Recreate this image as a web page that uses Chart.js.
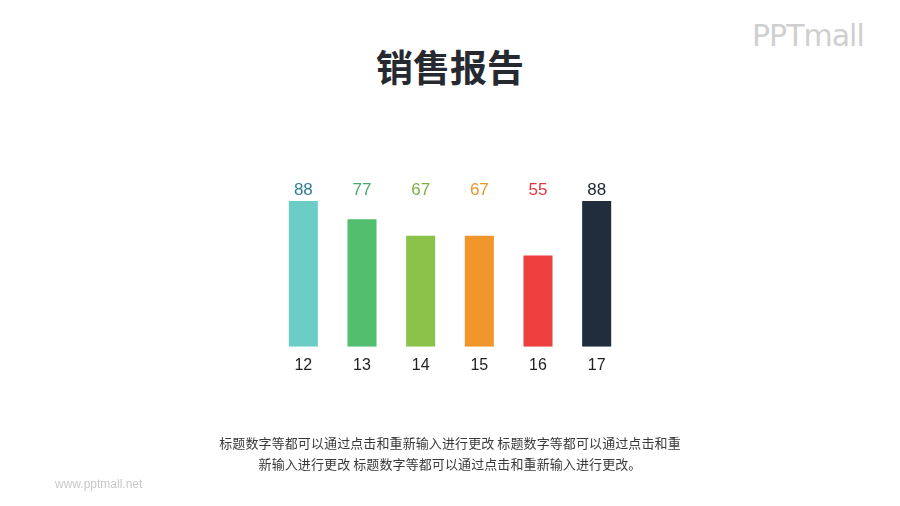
<!DOCTYPE html>
<html>
<head>
<meta charset="utf-8">
<script src="https://cdn.jsdelivr.net/npm/chart.js@4"></script>
<style>
html,body{margin:0;padding:0;background:#fff;width:900px;height:506px;overflow:hidden;position:relative;font-family:"Liberation Sans",Arial,sans-serif;}
#wrap{position:absolute;left:0;top:0;width:900px;height:506px;}
#title{position:absolute;left:0;width:900px;top:42px;text-align:center;font-family:"Noto Sans CJK SC",sans-serif;font-weight:bold;font-size:37px;line-height:48px;color:#262a30;}
#sub{position:absolute;left:0;width:900px;top:432px;text-align:center;font-family:"Noto Sans CJK SC",sans-serif;font-size:13px;letter-spacing:0.1px;line-height:21px;color:#3a3a3a;}
#logo{position:absolute;left:752px;top:18px;font-family:"DejaVu Sans",sans-serif;font-size:30px;color:#cfcfcf;letter-spacing:-1px;}
#url{position:absolute;left:55px;top:477px;font-family:"Liberation Sans",sans-serif;font-size:12px;color:#c8c8c8;}
</style>
</head>
<body>
<div id="title">销售报告</div>
<div id="logo">PPTmall</div>
<div id="wrap"><canvas id="c" width="900" height="506"></canvas></div>
<div id="sub">标题数字等都可以通过点击和重新输入进行更改 标题数字等都可以通过点击和重<br>新输入进行更改 标题数字等都可以通过点击和重新输入进行更改。</div>
<div id="url">www.pptmall.net</div>
<script>
const categories = ["12", "13", "14", "15", "16", "17"];
const salesValues = [88, 77, 67, 67, 55, 88];
const barColors = ["#6ccdc6", "#52bf6f", "#8bc34a", "#f0962a", "#ef4040", "#1f2d3d"];
const labelColors = ["#2e7f96", "#4aa872", "#7fb043", "#e8952c", "#e0393d", "#1b2530"];

const valueLabels = {
  id: "valueLabels",
  afterDatasetsDraw(chart) {
    const ctx = chart.ctx;
    const meta = chart.getDatasetMeta(0);
    const yTop = chart.scales.y.getPixelForValue(Math.max(...salesValues));
    ctx.save();
    ctx.font = "17px 'Liberation Sans', Arial, sans-serif";
    ctx.textAlign = "center";
    ctx.textBaseline = "middle";
    meta.data.forEach((bar, i) => {
      ctx.fillStyle = labelColors[i];
      ctx.fillText(String(salesValues[i]), bar.x, yTop - 11);
    });
    ctx.restore();
  }
};

new Chart(document.getElementById("c"), {
  type: "bar",
  data: {
    labels: categories,
    datasets: [{
      data: salesValues,
      backgroundColor: barColors,
      borderWidth: 0,
      categoryPercentage: 1,
      barPercentage: 0.495
    }]
  },
  options: {
    responsive: false,
    animation: false,
    layout: { padding: { left: 274, right: 274, top: 181, bottom: 130 } },
    plugins: { legend: { display: false }, tooltip: { enabled: false } },
    scales: {
      x: {
        grid: { display: false },
        border: { display: false },
        ticks: { color: "#222", font: { size: 16, family: "'Liberation Sans', Arial, sans-serif" }, padding: 1, maxRotation: 0 }
      },
      y: {
        display: false,
        min: 0,
        max: 100
      }
    }
  },
  plugins: [valueLabels]
});
</script>
</body>
</html>
